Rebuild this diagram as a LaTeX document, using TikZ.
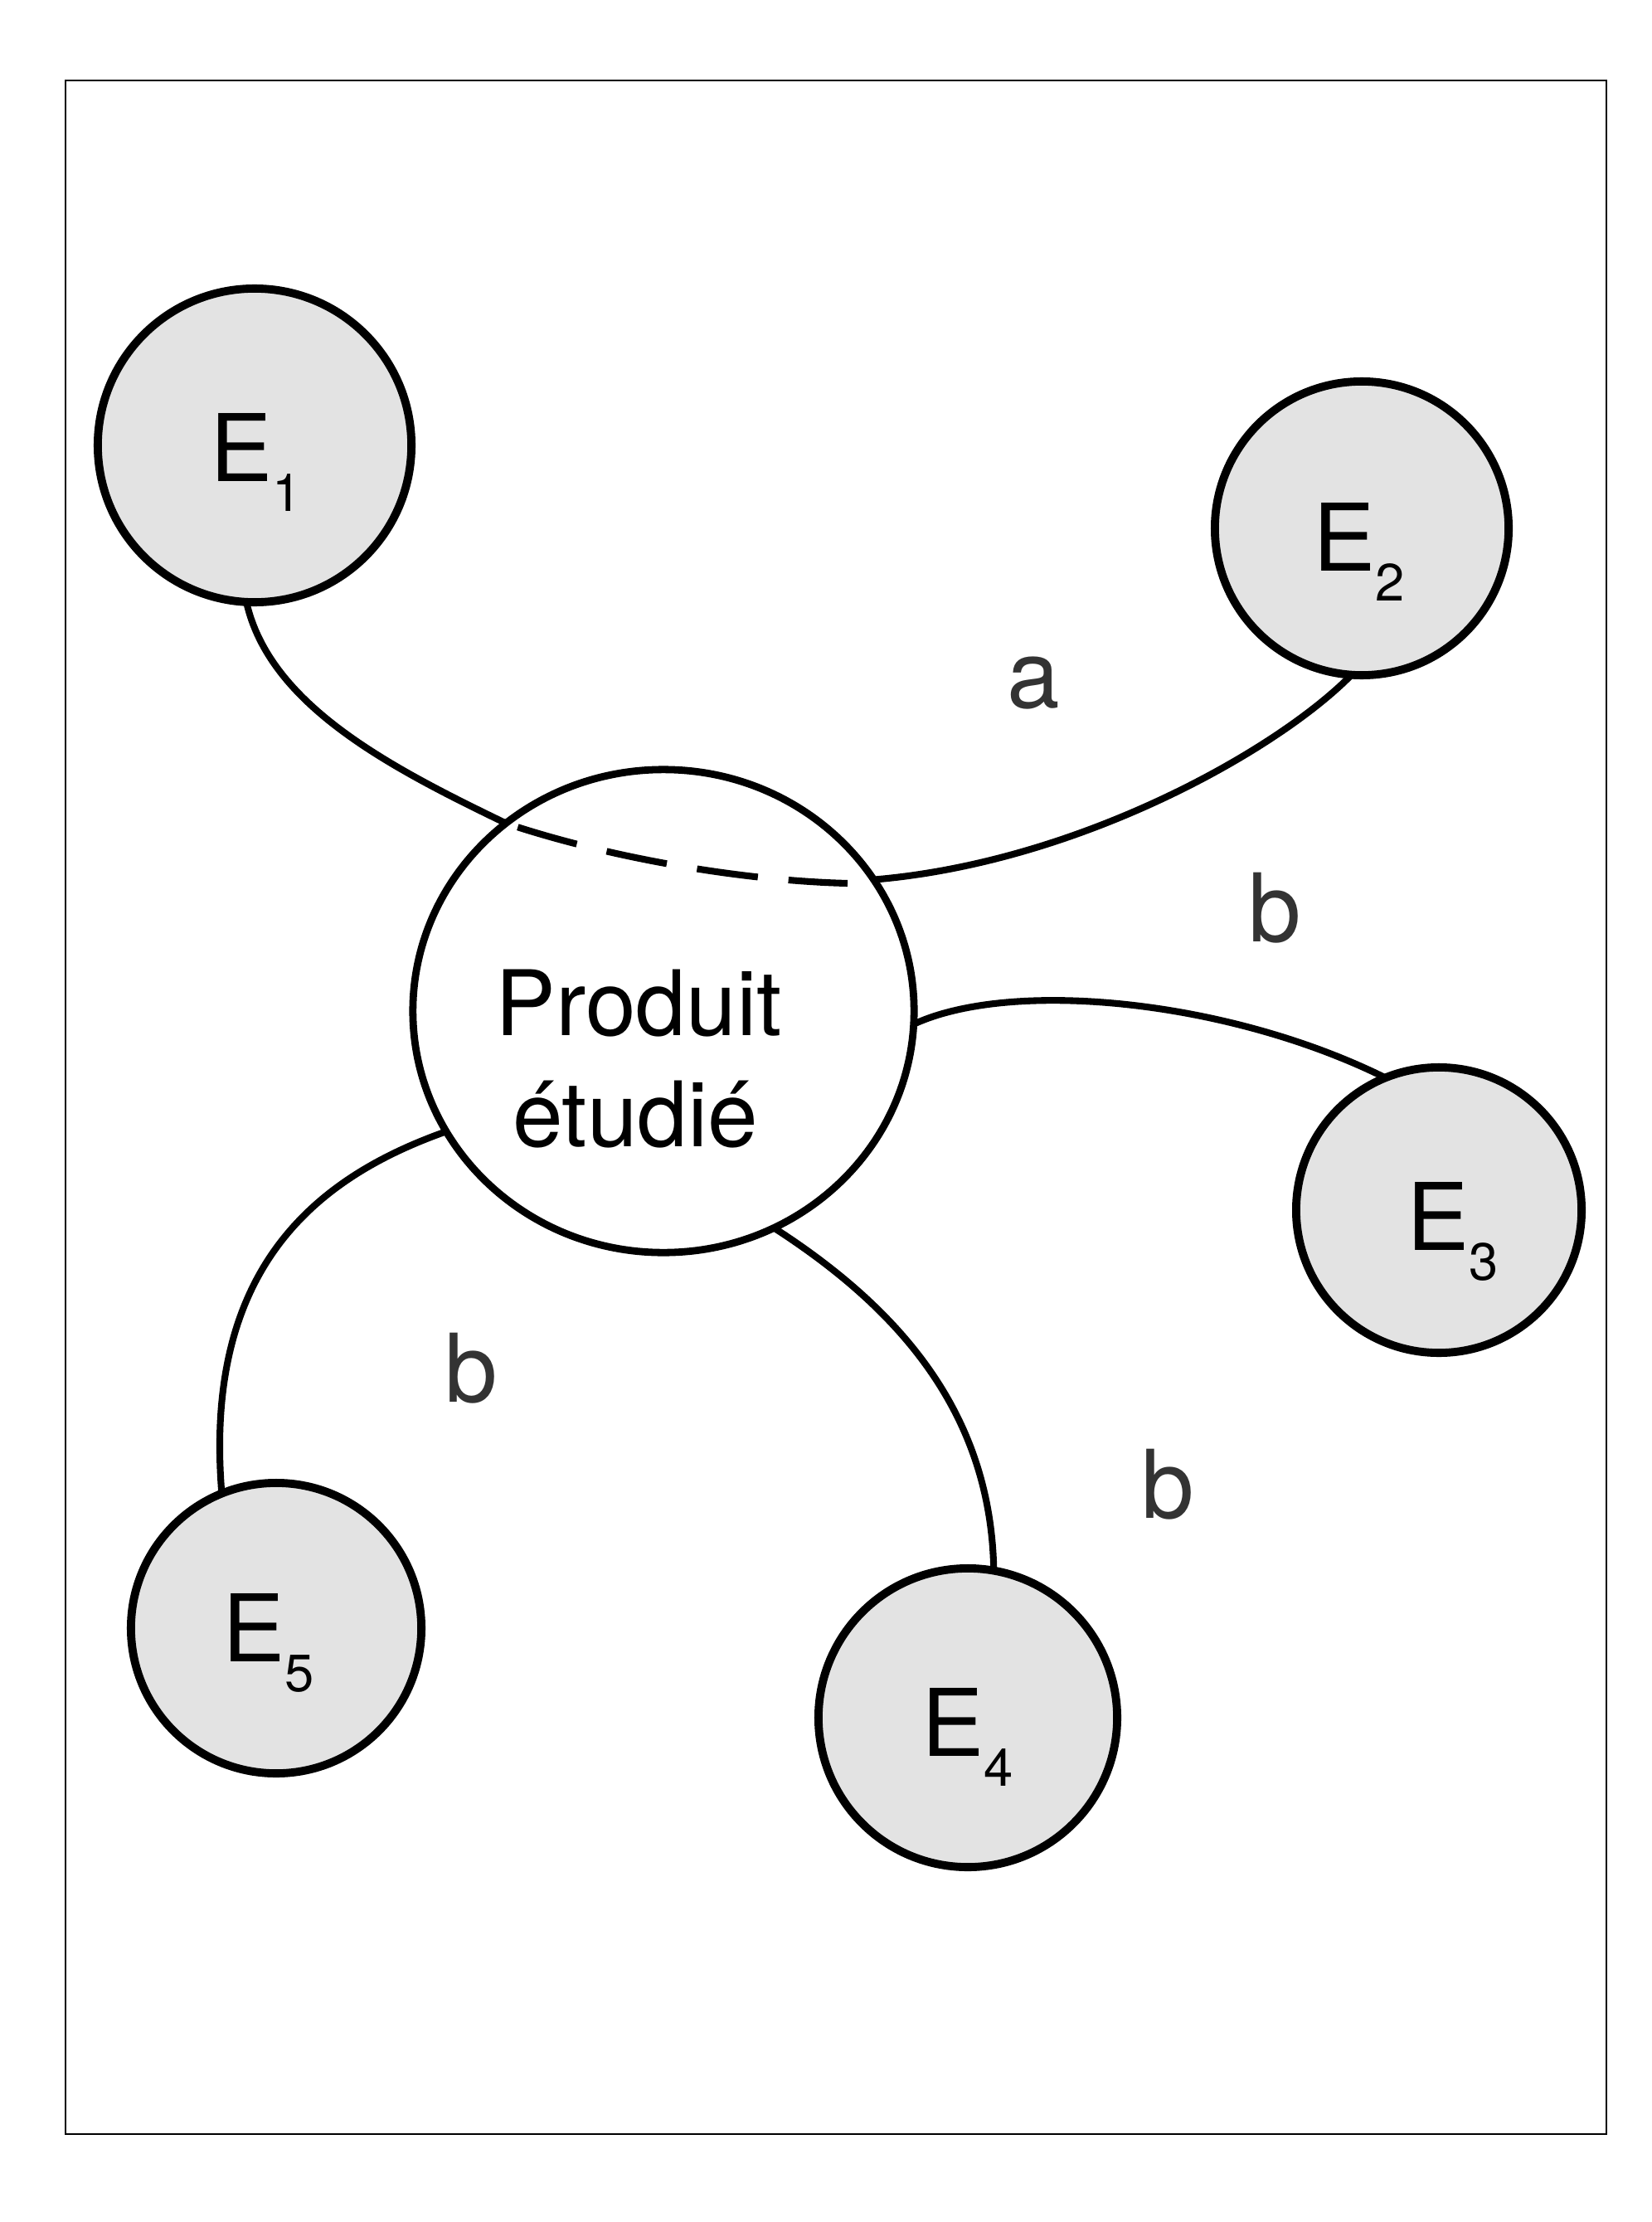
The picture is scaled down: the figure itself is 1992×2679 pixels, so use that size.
\documentclass[tikz,border=0pt]{standalone}
\usepackage{fontspec}
\setmainfont{TeX Gyre Heros}
\usetikzlibrary{shapes.geometric}
\newcommand{\Esub}[1]{E\raisebox{-10.5pt}{\fontsize{18}{18}\selectfont #1}}
\begin{document}
\begin{tikzpicture}[x=0.01cm, y=-0.01cm,
  ext/.style={circle, draw, line width=2.8pt, fill=black!11, inner sep=0pt, outer sep=0pt},
  prod/.style={ellipse, draw, line width=2.5pt, inner sep=0pt, outer sep=0pt, minimum width=6.04cm, minimum height=5.82cm},
  elab/.style={anchor=base west, inner sep=0pt, font=\fontsize{32}{38}\selectfont},
  ptext/.style={anchor=base, inner sep=0pt, font=\fontsize{31}{38}\selectfont},
  rel/.style={anchor=base west, inner sep=0pt, text=black!80, font=\fontsize{32.5}{38}\selectfont},
  conn/.style={line width=2.3pt},
  ]
\useasboundingbox (0,0) rectangle (1992,2679);
\draw[line width=0.8pt] (79,97) rectangle (1937,2573);

% nodes
\node[ext, minimum size=3.78cm] (E1) at (307,537) {};
\node[ext, minimum size=3.54cm] (E2) at (1642,637) {};
\node[ext, minimum size=3.44cm] (E3) at (1735,1459) {};
\node[ext, minimum size=3.60cm] (E4) at (1167,2071) {};
\node[ext, minimum size=3.50cm] (E5) at (333,1963) {};
\node[prod] (C) at (800,1219) {};

\node[elab] (E1t) at (253,580) {\Esub{1}};
\node[elab] (E2t) at (1583,688) {\Esub{2}};
\node[elab] (E3t) at (1696,1507) {\Esub{3}};
\node[elab] (E4t) at (1111,2117) {\Esub{4}};
\node[elab] (E5t) at (268,2003) {\Esub{5}};

\node[ptext] (Ct1) at (770,1248) {Produit};
\node[ptext] (Ct2) at (766,1382) {étudié};

% connectors
\coordinate (dEnd) at (1022,1065);
\draw[conn] (E1.267) .. controls (325,850) and (470,925) .. (C.130);
\draw[conn, dash pattern=on 21.05pt off 10.53pt, dash phase=27.3pt] (C.130) .. controls (740,1036) and (900,1062) .. (dEnd);
\draw[conn] (C.32) .. controls (1300,1040) and (1540,905) .. (E2.266);
\draw[conn] (C.357) .. controls (1220,1180) and (1480,1205) .. (E3.112);
\draw[conn] (C.297) .. controls (1080,1575) and (1195,1700) .. (E4.80);
\draw[conn] (C.209) .. controls (380,1420) and (245,1530) .. (E5.112);

% relation labels
\node[rel] (la) at (1214,853) {a};
\node[rel] (lb1) at (1505,1135) {b};
\node[rel] (lb2) at (536,1690) {b};
\node[rel] (lb3) at (1376,1830) {b};
\end{tikzpicture}
\end{document}
